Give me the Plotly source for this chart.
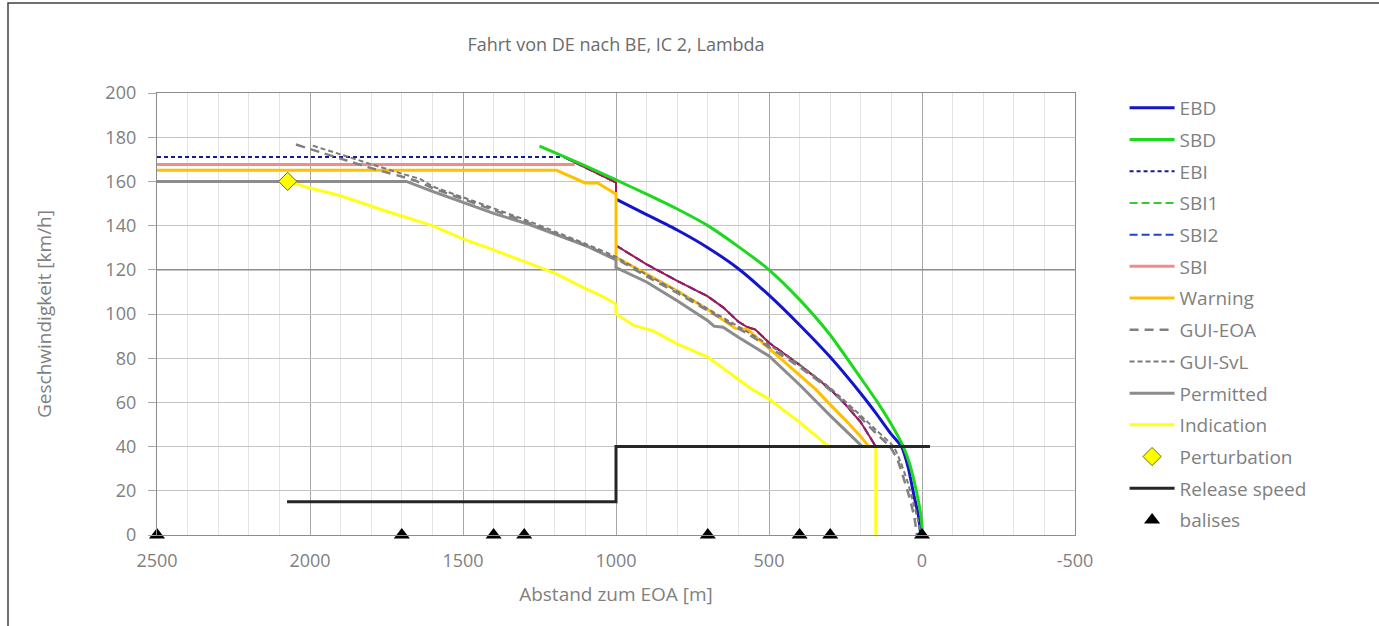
import plotly.graph_objects as go

# ---------------- data (distance to EOA [m], speed [km/h]) ----------------
EBD_D = [1000, 900, 800, 700, 600, 500, 400, 300, 200, 150, 100, 67, 45, 25, 12, 4]
EBD_V = [152, 145, 138, 130, 120.5, 108.5, 95, 80.5, 64, 55, 45.5, 40, 30.5, 17, 9, 0]

SBD_D = [1250, 1200, 1100, 1000, 900, 800, 700, 600, 500, 400, 300, 200, 150, 100, 61, 40, 14, 5, 0, -2]
SBD_V = [176, 173, 167, 160.7, 154.2, 147.5, 140, 130.5, 120, 106.5, 90.5, 71, 61, 50, 40, 32, 17, 10, 4, 0]

EBI_D = [2500, 1165]
EBI_V = [171, 171]

SBI_D = [2500, 1135]
SBI_V = [167.7, 167.7]
SBI_CURVE_D = [1170, 1000, 1000, 900, 800, 700, 650, 600, 570, 545, 500, 400, 300, 250, 200, 151]
SBI_CURVE_V = [171, 159.5, 131, 122.5, 115, 108, 103, 96.5, 94, 93, 87, 77, 66, 59, 51, 40]

WARN_D = [2500, 1194, 1101, 1060, 1003, 1000, 1000, 900, 800, 700, 650, 610, 570, 500, 400, 348, 300, 250, 200, 173]
WARN_V = [165, 165, 159.3, 159.3, 154.5, 154.5, 125.6, 118, 110.5, 102, 97.5, 93.5, 93, 84.5, 72, 66, 59, 52, 44.5, 40]

GUI_EOA_D = [2046, 1900, 1800, 1660, 1600, 1500, 1400, 1300, 1200, 1100, 1000, 900, 800, 700, 600, 500, 400, 300, 200, 150, 105, 80, 63, 41, 25, 17]
GUI_EOA_V = [176.7, 170.3, 166, 160.5, 157, 152, 147, 142, 136.5, 131, 125, 117, 109.5, 101.5, 93.5, 85, 76, 65.5, 53, 46, 40, 34, 27, 17, 8, 0]

GUI_SVL_D = [1991, 1900, 1800, 1700, 1640, 1600, 1500, 1400, 1300, 1200, 1100, 1000, 900, 800, 700, 600, 500, 400, 300, 200, 150, 93, 70, 47, 25, 12, 5]
GUI_SVL_V = [176.2, 172.2, 167.8, 163.5, 161, 157.8, 152.8, 147.8, 142.8, 137.3, 131.8, 125.8, 117.8, 110.3, 102.3, 94.3, 86, 77, 66.5, 54, 47.5, 40, 33, 24, 13, 6, 0]

PERM_D = [2500, 1685, 1600, 1500, 1400, 1283, 1160, 1100, 1000, 1000, 900, 800, 700, 680, 650, 600, 500, 400, 300, 250, 195]
PERM_V = [160, 160, 155.5, 150.5, 145.5, 140.5, 134, 131, 124.5, 121, 114.5, 106, 97, 94.5, 94, 89.5, 81, 68, 54, 47.5, 40]

IND_D = [2073, 2000, 1900, 1750, 1600, 1500, 1400, 1283, 1200, 1100, 1049, 1000, 1000, 940, 908, 880, 800, 700, 603, 556, 500, 400, 304, 151, 151]
IND_V = [160, 157, 153.5, 146.5, 140, 134, 129, 123, 118.5, 111.5, 108.3, 104.5, 100, 94.7, 93.5, 92.5, 86.5, 80.5, 70.7, 66, 61.5, 51, 40, 40, 0]

PERT_D = [2073]
PERT_V = [160]

REL_D = [2075, 1000, 1000, -26]
REL_V = [15, 15, 40, 40]

BALISE_D = [2500, 1700, 1400, 1300, 700, 400, 300, 0]
BALISE_V = [0, 0, 0, 0, 0, 0, 0, 0]

REF_D = [2500, -500]
REF_V = [120, 120]

X_TICKS = [2500, 2000, 1500, 1000, 500, 0, -500]
X_LABELS = ["2500", "2000", "1500", "1000", "500", "0", "-500"]
Y_TICKS = [0, 20, 40, 60, 80, 100, 120, 140, 160, 180, 200]

# ---------------- figure ----------------
FONT = "Open Sans"
TXT = "#7f7f7f"

fig = go.Figure()

def line(name, d, v, color, width, dash="solid", rank=0, show=True, group=None,
         shape="linear"):
    fig.add_trace(go.Scatter(
        x=d, y=v, mode="lines", name=name,
        line=dict(color=color, width=width, dash=dash, shape=shape,
                  smoothing=0.6 if shape == "spline" else None),
        legendgroup=group or name, showlegend=show, legendrank=rank,
        hoverinfo="skip"))

# reference line at 120 km/h (no legend)
line("ref", REF_D, REF_V, "#8c8c8c", 1.6, show=False, group="ref", rank=99)

line("SBI1", SBI_CURVE_D, SBI_CURVE_V, "#33cc33", 2, dash="8px,4px", rank=4)
line("SBI2", SBI_CURVE_D, SBI_CURVE_V, "#1f3fe0", 2, dash="8px,4px", rank=5)
line("SBI", SBI_D, SBI_V, "#f28c8c", 3, rank=6)
line("SBI curve", SBI_CURVE_D, SBI_CURVE_V, "#a8155a", 2, show=False, group="SBI", rank=6)
line("EBI", EBI_D, EBI_V, "#1a1a8c", 2, dash="4px,3px", rank=3)
line("EBD", EBD_D, EBD_V, "#1414cc", 3, rank=1, shape="spline")
line("SBD", SBD_D, SBD_V, "#1ed81e", 3, rank=2, shape="spline")
line("Warning", WARN_D, WARN_V, "#ffc000", 3, rank=7)
line("Permitted", PERM_D, PERM_V, "#8c8c8c", 3, rank=10)
line("GUI-EOA", GUI_EOA_D, GUI_EOA_V, "#808080", 2.5, dash="9px,6px", rank=8, shape="spline")
line("GUI-SvL", GUI_SVL_D, GUI_SVL_V, "#7a7a7a", 2, dash="5px,3px", rank=9, shape="spline")
line("Indication", IND_D, IND_V, "#ffff1a", 3, rank=11)

fig.add_trace(go.Scatter(
    x=PERT_D, y=PERT_V, mode="markers", name="Perturbation",
    marker=dict(symbol="diamond", size=14, color="#ffff00",
                line=dict(color="#6b6b00", width=1)),
    legendgroup="Perturbation", legendrank=12, hoverinfo="skip"))

line("Release speed", REL_D, REL_V, "#262626", 3, rank=13)

fig.add_trace(go.Scatter(
    x=BALISE_D, y=BALISE_V, mode="markers", name="balises",
    marker=dict(symbol="triangle-up", size=14, color="#000000"),
    cliponaxis=False, legendgroup="balises", legendrank=14, hoverinfo="skip"))

W, H = 1379, 626
L, R, T, B = 157, 1379 - 1075, 93, 626 - 535
PW = W - L - R
PH = H - T - B

fig.update_layout(
    width=W, height=H,
    margin=dict(l=L, r=R, t=T, b=B),
    paper_bgcolor="white", plot_bgcolor="white",
    font=dict(family=FONT, size=18, color=TXT),
    title=dict(text="Fahrt von DE nach BE, IC 2, Lambda",
               x=0.5, xref="paper", xanchor="center",
               y=1 - 45 / H, yref="container", yanchor="middle",
               font=dict(family=FONT, size=18, color="#6b6b6b")),
    legend=dict(x=1.054, xanchor="left", y=1.0 + 4 / PH, yanchor="top",
                traceorder="grouped", tracegroupgap=4, maxheight=600,
                font=dict(family=FONT, size=19, color=TXT),
                bgcolor="rgba(0,0,0,0)", itemwidth=45),
    showlegend=True,
)

fig.update_xaxes(
    range=[2500, -500], tickvals=X_TICKS, ticktext=X_LABELS,
    showgrid=True, gridcolor="#a6a6a6", gridwidth=1,
    minor=dict(dtick=100, showgrid=True, gridcolor="#e3e3e3", gridwidth=1),
    zeroline=False, showline=True, linecolor="#8c8c8c", linewidth=1.3, mirror=True,
    ticks="", ticklabelstandoff=9,
    tickfont=dict(family=FONT, size=18, color=TXT),
    title=dict(text="Abstand zum EOA [m]", standoff=16,
               font=dict(family=FONT, size=19, color=TXT)),
)
fig.update_yaxes(
    range=[0, 200], tickvals=Y_TICKS,
    showgrid=True, gridcolor="#c4c4c4", gridwidth=1,
    zeroline=False, showline=True, linecolor="#8c8c8c", linewidth=1.3, mirror=True,
    ticks="outside", ticklen=8, tickcolor="#a6a6a6", ticklabelstandoff=8,
    tickfont=dict(family=FONT, size=18, color=TXT),
    title=dict(text="Geschwindigkeit [km/h]", standoff=48,
               font=dict(family=FONT, size=19, color=TXT)),
)

# outer chart border (partly cropped in the reference)
fig.add_shape(type="rect", xref="paper", yref="paper",
              x0=(8 - L) / PW, x1=(W + 10 - L) / PW,
              y0=-(B + 10) / PH, y1=1 + (T - 3) / PH,
              line=dict(color="#404040", width=1.5), layer="above")

# remove the default page margin so the figure sits at the window origin
fig.write_html("out.html",
               config={"displayModeBar": False},
               post_script="document.body.style.margin='0px';")
